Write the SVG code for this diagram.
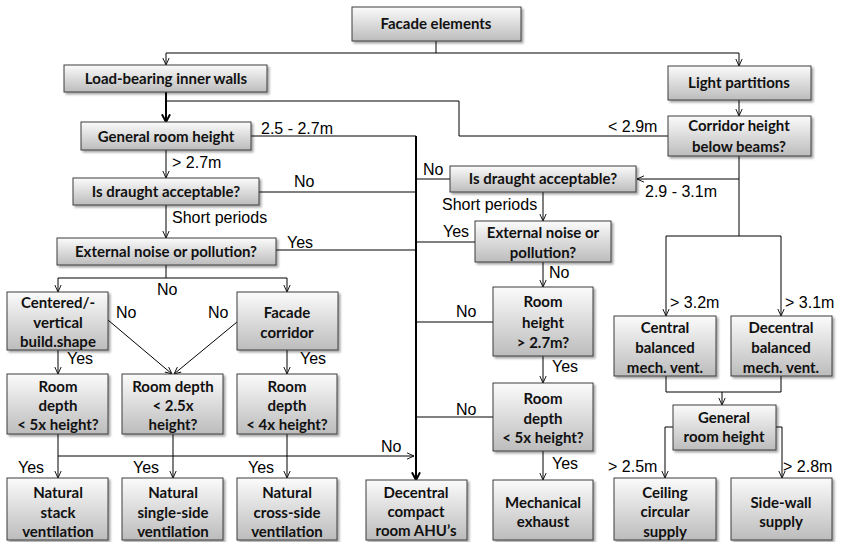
<svg xmlns="http://www.w3.org/2000/svg" width="841" height="542" viewBox="0 0 841 542">
<defs>
<linearGradient id="g" x1="0" y1="0" x2="0" y2="1">
<stop offset="0" stop-color="#fbfbfb"/>
<stop offset="1" stop-color="#bcbcbc"/>
</linearGradient>
<filter id="sh" x="-10%" y="-10%" width="130%" height="140%">
<feDropShadow dx="2" dy="2" stdDeviation="1.2" flood-color="#000" flood-opacity="0.35"/>
</filter>
<marker id="a" viewBox="0 0 10 10" refX="10" refY="5" markerWidth="7" markerHeight="8" markerUnits="userSpaceOnUse" orient="auto">
<path d="M0,0.5 L10,5 L0,9.5" fill="none" stroke="#000" stroke-width="1.3"/>
</marker>
<marker id="ab" viewBox="0 0 10 10" refX="9" refY="5" markerWidth="9" markerHeight="10" markerUnits="userSpaceOnUse" orient="auto">
<path d="M0.5,0.5 L9,5 L0.5,9.5" fill="none" stroke="#000" stroke-width="2.2"/>
</marker>
</defs>
<style>
.box rect{fill:url(#g);stroke:#3c3c3c;stroke-width:1;filter:url(#sh)}
.box text{font-family:Lato,"Open Sans","Liberation Sans",sans-serif;font-weight:bold;font-size:15px;fill:#111;text-anchor:middle}
.c path{fill:none;stroke:#000;stroke-width:1}
.c .t{stroke-width:2}
.lbl{font-family:"Liberation Sans",Arial,sans-serif;font-size:16px;fill:#000}
</style>
<g id="connectors" class="c">
<path d="M436,41 V53"/>
<path d="M436,53 H166 V65" marker-end="url(#a)"/>
<path d="M436,53 H739 V66" marker-end="url(#a)"/>
<path class="t" d="M166,92 V122" marker-end="url(#ab)"/>
<path d="M668,136 H459 V101 H166"/>
<path d="M739,100 V116" marker-end="url(#a)"/>
<path d="M166,150 V178" marker-end="url(#a)"/>
<path d="M251,136 H416"/>
<path class="t" d="M416,136 V480" marker-end="url(#ab)"/>
<path d="M259,192 H416"/>
<path d="M166,205 V238" marker-end="url(#a)"/>
<path d="M276,250 H416"/>
<path d="M166,265 V278"/>
<path d="M166,278 H58 V292" marker-end="url(#a)"/>
<path d="M166,278 H287 V292" marker-end="url(#a)"/>
<path d="M108,320 L172,374" marker-end="url(#a)"/>
<path d="M237,322 L174,374" marker-end="url(#a)"/>
<path d="M58,350 V374" marker-end="url(#a)"/>
<path d="M287,350 V374" marker-end="url(#a)"/>
<path d="M58,434 V478" marker-end="url(#a)"/>
<path d="M173,434 V478" marker-end="url(#a)"/>
<path d="M287,434 V478" marker-end="url(#a)"/>
<path d="M58,456 H414" marker-end="url(#a)"/>
<path d="M739,156 V236"/>
<path d="M739,179 H637" marker-end="url(#a)"/>
<path d="M666,236 H781"/>
<path d="M666,236 V316" marker-end="url(#a)"/>
<path d="M781,236 V316" marker-end="url(#a)"/>
<path d="M450,179 H416"/>
<path d="M543,192 V221" marker-end="url(#a)"/>
<path d="M475,242 H416"/>
<path d="M543,262 V287" marker-end="url(#a)"/>
<path d="M493,322 H416"/>
<path d="M543,356 V383" marker-end="url(#a)"/>
<path d="M493,417 H416"/>
<path d="M543,451 V480" marker-end="url(#a)"/>
<path d="M666,376 V392 H781 V376"/>
<path d="M722,392 V405" marker-end="url(#a)"/>
<path d="M673,427 H665 V478" marker-end="url(#a)"/>
<path d="M776,427 H782 V478" marker-end="url(#a)"/>
</g>
<g id="labels" class="lbl">
<text x="261" y="134">2.5 - 2.7m</text>
<text x="172" y="168">&gt; 2.7m</text>
<text x="294" y="187">No</text>
<text x="172" y="223">Short periods</text>
<text x="287" y="248">Yes</text>
<text x="157" y="295">No</text>
<text x="116" y="318">No</text>
<text x="208" y="318">No</text>
<text x="67" y="364">Yes</text>
<text x="300" y="364">Yes</text>
<text x="381" y="452">No</text>
<text x="18" y="473">Yes</text>
<text x="133" y="473">Yes</text>
<text x="248" y="473">Yes</text>
<text x="608" y="132">&lt; 2.9m</text>
<text x="423" y="175">No</text>
<text x="443" y="237">Yes</text>
<text x="442" y="210">Short periods</text>
<text x="645" y="197">2.9 - 3.1m</text>
<text x="549" y="278">No</text>
<text x="456" y="317">No</text>
<text x="456" y="415">No</text>
<text x="552" y="372">Yes</text>
<text x="552" y="469">Yes</text>
<text x="670" y="308">&gt; 3.2m</text>
<text x="785" y="308">&gt; 3.1m</text>
<text x="608" y="472">&gt; 2.5m</text>
<text x="783" y="472">&gt; 2.8m</text>
</g>
<g id="n-facade" class="box"><rect x="352" y="7" width="169" height="34"/><text x="436" y="29">Facade elements</text></g>
<g id="n-loadbearing" class="box"><rect x="64" y="65" width="203" height="27"/><text x="166" y="84">Load-bearing inner walls</text></g>
<g id="n-light" class="box"><rect x="668" y="66" width="143" height="34"/><text x="739" y="88">Light partitions</text></g>
<g id="n-grh-left" class="box"><rect x="81" y="122" width="170" height="28"/><text x="166" y="142">General room height</text></g>
<g id="n-corridor" class="box"><rect x="668" y="116" width="143" height="40"/><text x="739" y="131">Corridor height</text><text x="739" y="152">below beams?</text></g>
<g id="n-draught-left" class="box"><rect x="73" y="178" width="186" height="27"/><text x="166" y="197">Is draught acceptable?</text></g>
<g id="n-draught-right" class="box"><rect x="450" y="166" width="186" height="26"/><text x="543" y="184">Is draught acceptable?</text></g>
<g id="n-noise-left" class="box"><rect x="57" y="238" width="219" height="27"/><text x="166" y="257">External noise or pollution?</text></g>
<g id="n-noise-right" class="box"><rect x="475" y="221" width="136" height="41"/><text x="543" y="238">External noise or</text><text x="543" y="258">pollution?</text></g>
<g id="n-centered" class="box"><rect x="7" y="292" width="101" height="58"/><text x="58" y="308">Centered/-</text><text x="58" y="328">vertical</text><text x="58" y="347">build.shape</text></g>
<g id="n-facadecorr" class="box"><rect x="237" y="292" width="101" height="58"/><text x="287" y="318">Facade</text><text x="287" y="338">corridor</text></g>
<g id="n-roomheight" class="box"><rect x="493" y="287" width="100" height="69"/><text x="543" y="307">Room</text><text x="543" y="328">height</text><text x="543" y="348">&gt; 2.7m?</text></g>
<g id="n-central" class="box"><rect x="614" y="316" width="102" height="60"/><text x="665" y="333">Central</text><text x="665" y="353">balanced</text><text x="665" y="373">mech. vent.</text></g>
<g id="n-decentral-bal" class="box"><rect x="731" y="316" width="101" height="60"/><text x="781" y="333">Decentral</text><text x="781" y="353">balanced</text><text x="781" y="373">mech. vent.</text></g>
<g id="n-depth5" class="box"><rect x="7" y="374" width="101" height="60"/><text x="58" y="392">Room</text><text x="58" y="411">depth</text><text x="58" y="430">&lt; 5x height?</text></g>
<g id="n-depth25" class="box"><rect x="122" y="374" width="101" height="60"/><text x="173" y="392">Room depth</text><text x="173" y="411">&lt; 2.5x</text><text x="173" y="430">height?</text></g>
<g id="n-depth4" class="box"><rect x="237" y="374" width="100" height="60"/><text x="287" y="392">Room</text><text x="287" y="411">depth</text><text x="287" y="430">&lt; 4x height?</text></g>
<g id="n-depth5r" class="box"><rect x="493" y="383" width="100" height="68"/><text x="543" y="404">Room</text><text x="543" y="424">depth</text><text x="543" y="443">&lt; 5x height?</text></g>
<g id="n-grh-right" class="box"><rect x="673" y="405" width="103" height="45"/><text x="724" y="423">General</text><text x="724" y="442">room height</text></g>
<g id="n-stack" class="box"><rect x="7" y="478" width="101" height="62"/><text x="58" y="498">Natural</text><text x="58" y="518">stack</text><text x="58" y="537">ventilation</text></g>
<g id="n-single" class="box"><rect x="122" y="478" width="101" height="62"/><text x="173" y="498">Natural</text><text x="173" y="518">single-side</text><text x="173" y="537">ventilation</text></g>
<g id="n-cross" class="box"><rect x="237" y="478" width="100" height="62"/><text x="287" y="498">Natural</text><text x="287" y="518">cross-side</text><text x="287" y="537">ventilation</text></g>
<g id="n-compact" class="box"><rect x="366" y="480" width="101" height="60"/><text x="416" y="498">Decentral</text><text x="416" y="517">compact</text><text x="416" y="536">room AHU’s</text></g>
<g id="n-mech" class="box"><rect x="493" y="480" width="100" height="60"/><text x="543" y="508">Mechanical</text><text x="543" y="527">exhaust</text></g>
<g id="n-ceiling" class="box"><rect x="614" y="478" width="102" height="62"/><text x="665" y="498">Ceiling</text><text x="665" y="517">circular</text><text x="665" y="537">supply</text></g>
<g id="n-sidewall" class="box"><rect x="731" y="478" width="101" height="62"/><text x="781" y="508">Side-wall</text><text x="781" y="527">supply</text></g>
</svg>
